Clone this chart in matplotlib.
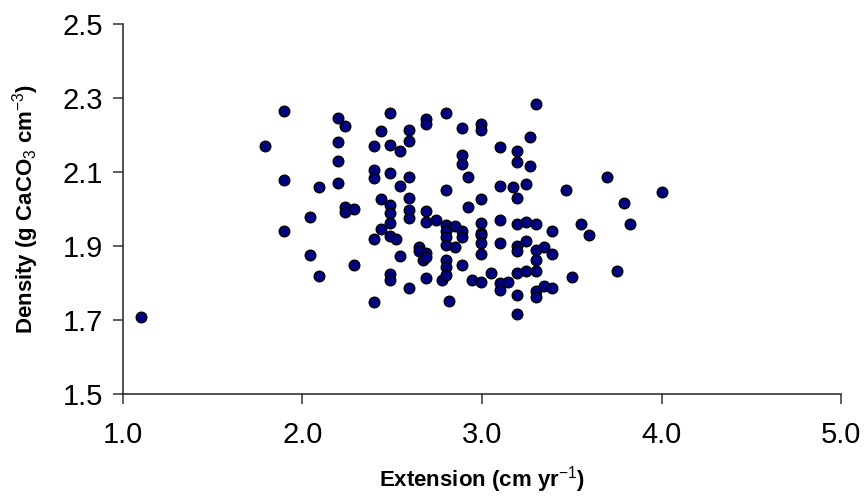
import matplotlib
matplotlib.use("Agg")
import matplotlib.pyplot as plt

# extension (cm/yr) vs density (g CaCO3 / cm3)
extension = [
    1.10, 1.79, 1.90, 1.90, 1.90, 2.04, 2.04, 2.09, 2.09,
    2.20, 2.20, 2.20, 2.20, 2.24, 2.24, 2.24, 2.29, 2.29,
    2.40, 2.40, 2.40, 2.40, 2.40, 2.44, 2.44, 2.44,
    2.49, 2.49, 2.49, 2.49, 2.49, 2.49, 2.49, 2.49, 2.49, 2.52,
    2.545, 2.545, 2.545,
    2.595, 2.595, 2.595, 2.595, 2.595, 2.595, 2.595,
    2.647, 2.647, 2.67,
    2.69, 2.69, 2.69, 2.69, 2.69, 2.69, 2.69,
    2.745, 2.776,
    2.797, 2.797, 2.797, 2.797, 2.797, 2.797, 2.797, 2.797, 2.797,
    2.819, 2.85, 2.85,
    2.89, 2.89, 2.89, 2.89, 2.89, 2.89,
    2.923, 2.923, 2.945,
    2.995, 2.995, 2.995, 2.995, 2.995, 2.995, 2.995, 2.995, 2.995,
    3.05, 3.10, 3.10, 3.10, 3.10, 3.10, 3.10, 3.144, 3.175,
    3.195, 3.195, 3.195, 3.195, 3.195, 3.195, 3.195, 3.195, 3.195,
    3.247, 3.247, 3.247, 3.247, 3.267, 3.267,
    3.298, 3.298, 3.298, 3.298, 3.298, 3.298, 3.298,
    3.345, 3.345, 3.392, 3.392, 3.392,
    3.467, 3.50, 3.55, 3.595, 3.697, 3.75, 3.79, 3.823, 4.00,
]
density = [
    1.710, 2.170, 2.265, 2.080, 1.940, 1.980, 1.875, 2.060, 1.820,
    2.245, 2.180, 2.130, 2.070, 2.225, 2.007, 1.993, 2.000, 1.848,
    2.170, 2.106, 2.083, 1.919, 1.748, 2.210, 2.027, 1.946,
    2.260, 2.172, 2.097, 2.012, 1.990, 1.962, 1.927, 1.826, 1.808, 1.919,
    2.158, 2.062, 1.874,
    2.214, 2.184, 2.088, 2.031, 1.997, 1.975, 1.788,
    1.898, 1.888, 1.864,
    2.243, 2.231, 1.996, 1.964, 1.881, 1.872, 1.813,
    1.971, 1.808,
    2.259, 2.052, 1.958, 1.942, 1.924, 1.904, 1.863, 1.845, 1.823,
    1.753, 1.955, 1.899,
    2.219, 2.145, 2.121, 1.941, 1.924, 1.848,
    2.087, 2.006, 1.809,
    2.230, 2.214, 2.027, 1.963, 1.936, 1.929, 1.909, 1.879, 1.802,
    1.828, 2.169, 2.063, 1.971, 1.909, 1.800, 1.783, 1.803, 2.059,
    2.158, 2.127, 2.031, 1.960, 1.900, 1.888, 1.828, 1.767, 1.716,
    2.067, 1.964, 1.915, 1.834, 2.194, 2.117,
    2.285, 1.960, 1.890, 1.863, 1.834, 1.779, 1.762,
    1.899, 1.792, 1.940, 1.879, 1.787,
    2.051, 1.818, 1.960, 1.929, 2.087, 1.833, 2.016, 1.960, 2.045,
]

x_ticks = [1.0, 2.0, 3.0, 4.0, 5.0]
y_ticks = [1.5, 1.7, 1.9, 2.1, 2.3, 2.5]

plt.rcParams['font.family'] = ['Liberation Sans', 'DejaVu Sans']
plt.rcParams['mathtext.fontset'] = 'custom'
plt.rcParams['mathtext.rm'] = 'Liberation Sans'
plt.rcParams['mathtext.default'] = 'rm'

fig = plt.figure(figsize=(8.66, 5.0), dpi=100)
ax = fig.add_axes([0.1417, 0.2114, 0.8298, 0.7406])

ax.scatter(extension, density, s=58, c='#000080', edgecolors='black',
           linewidths=1.0, zorder=3, clip_on=False)

ax.set_xlim(1.0, 5.0)
ax.set_ylim(1.5, 2.5)
ax.set_xticks(x_ticks)
ax.set_yticks(y_ticks)
ax.set_xticklabels([f"{t:.1f}" for t in x_ticks])
ax.set_yticklabels([f"{t:.1f}" for t in y_ticks])

for side in ['top', 'right']:
    ax.spines[side].set_visible(False)
for side in ['left', 'bottom']:
    ax.spines[side].set_linewidth(1.1)
    ax.spines[side].set_color('#222222')

ax.tick_params(axis='both', direction='out', length=7, width=1.1,
               color='#333333', labelsize=21)
ax.tick_params(axis='x', pad=12)
ax.tick_params(axis='y', pad=7)

ax.set_xlabel('Extension (cm yr$^{-1}$)', fontsize=16, fontweight='bold',
              labelpad=11)
ax.set_ylabel('Density (g CaCO$_3$ cm$^{-3}$)', fontsize=16,
              fontweight='bold', labelpad=16)

fig.savefig('out.png', dpi=100)
